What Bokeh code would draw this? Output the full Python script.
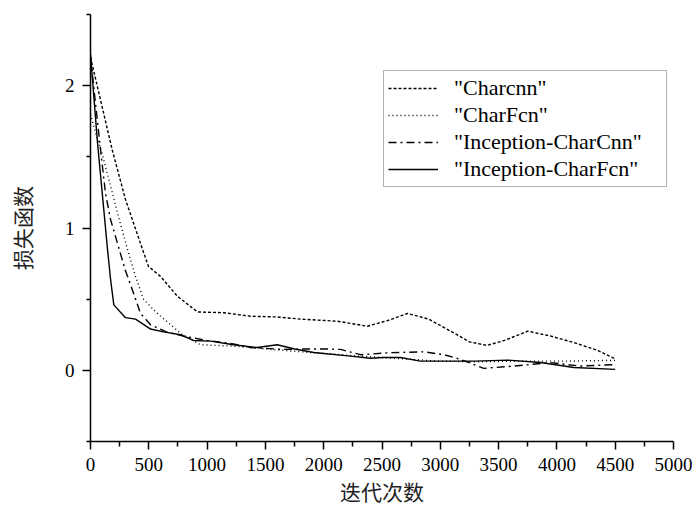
from bokeh.plotting import figure
from bokeh.models import FixedTicker, Legend, LegendItem, Range1d
from bokeh.embed import file_html
from bokeh.resources import INLINE

# ---- data ----
charcnn_x = [0, 186, 300, 446, 497, 600, 746, 918, 1141, 1372, 1600, 1800, 2118, 2375,
             2550, 2719, 2900, 3100, 3250, 3400, 3550, 3750, 3950, 4145, 4350, 4500]
charcnn_y = [2.2, 1.55, 1.2, 0.85, 0.73, 0.66, 0.52, 0.41, 0.405, 0.38, 0.375, 0.36, 0.345, 0.31,
             0.35, 0.40, 0.36, 0.27, 0.2, 0.175, 0.21, 0.275, 0.24, 0.195, 0.14, 0.08]

charfcn_x = [0, 50, 100, 240, 317, 386, 455, 560, 660, 772, 943, 1226, 1500, 1887, 2316,
             2700, 2973, 3300, 3700, 4100, 4500]
charfcn_y = [1.8, 1.65, 1.52, 1.08, 0.85, 0.66, 0.5, 0.41, 0.34, 0.26, 0.18, 0.17, 0.15, 0.125, 0.10,
             0.08, 0.065, 0.06, 0.065, 0.065, 0.07]

inc_cnn_x = [0, 86, 129, 172, 257, 300, 357, 429, 515, 650, 800, 1000, 1200, 1372, 1658, 1850,
             2030, 2144, 2316, 2573, 2859, 3030, 3173, 3373, 3630, 3945, 4202, 4489]
inc_cnn_y = [2.2, 1.55, 1.24, 1.06, 0.82, 0.70, 0.57, 0.40, 0.32, 0.27, 0.24, 0.21, 0.19, 0.16, 0.147, 0.15,
             0.15, 0.147, 0.11, 0.124, 0.13, 0.11, 0.077, 0.014, 0.03, 0.054, 0.03, 0.04]

inc_fcn_x = [0, 60, 146, 172, 200, 300, 386, 515, 626, 772, 883, 1029, 1226, 1432, 1601, 1750,
             1915, 2230, 2400, 2515, 2658, 2830, 3088, 3300, 3573, 3859, 4145, 4500]
inc_fcn_y = [2.22, 1.6, 0.85, 0.64, 0.46, 0.37, 0.36, 0.29, 0.27, 0.25, 0.21, 0.205, 0.18, 0.16, 0.18, 0.15,
             0.125, 0.10, 0.085, 0.09, 0.09, 0.065, 0.065, 0.065, 0.072, 0.055, 0.02, 0.007]

series_labels = ['"Charcnn"', '"CharFcn"', '"Inception-CharCnn"', '"Inception-CharFcn"']
x_ticks = list(range(0, 5001, 500))
x_minor = list(range(250, 5000, 500))
y_ticks = [0, 1, 2]
y_minor = [-0.5, 0.5, 1.5, 2.5]
x_title = "迭代次数"
y_title = "损失函数"

SERIF = "Liberation Serif"
CJK = "Noto Sans CJK SC"

p = figure(width=692, height=509, output_backend="svg", toolbar_location=None,
           x_range=Range1d(0, 5000), y_range=Range1d(-0.5, 2.5),
           min_border_left=90, min_border_right=19, min_border_top=14, min_border_bottom=68)
p.outline_line_color = None
p.xgrid.visible = False
p.ygrid.visible = False

dashes = ["3 2", "1 3", "8 4 2 4", "solid"]
xs = [charcnn_x, charfcn_x, inc_cnn_x, inc_fcn_x]
ys = [charcnn_y, charfcn_y, inc_cnn_y, inc_fcn_y]
renderers = []
for x, y, d in zip(xs, ys, dashes):
    r = p.line(x, y, line_color="black", line_width=1.4, line_dash=d)
    renderers.append(r)

for ax in (p.xaxis[0], p.yaxis[0]):
    ax.axis_line_color = "black"
    ax.axis_line_width = 1.5
    ax.major_tick_line_color = "black"
    ax.minor_tick_line_color = "black"
    ax.major_tick_line_width = 1.5
    ax.minor_tick_line_width = 1.5
    ax.major_tick_in = 0
    ax.minor_tick_in = 0
    ax.major_tick_out = 8
    ax.minor_tick_out = 5
    ax.major_label_text_font = SERIF
    ax.major_label_text_font_size = "19px"
    ax.major_label_text_color = "black"
    ax.axis_label_text_font = CJK
    ax.axis_label_text_font_size = "21px"
    ax.axis_label_text_font_style = "normal"
    ax.axis_label_text_color = "#222222"

p.xaxis[0].ticker = FixedTicker(ticks=x_ticks, minor_ticks=x_minor)
p.yaxis[0].ticker = FixedTicker(ticks=y_ticks, minor_ticks=y_minor)
p.yaxis[0].minor_tick_out = 4
p.xaxis[0].major_label_standoff = 8
p.yaxis[0].major_label_standoff = 8
p.xaxis[0].axis_label = x_title
p.yaxis[0].axis_label = y_title
p.xaxis[0].axis_label_standoff = 2
p.yaxis[0].axis_label_standoff = 25

items = [LegendItem(label=l, renderers=[r]) for l, r in zip(series_labels, renderers)]
legend = Legend(items=items, location=(293, 254), orientation="vertical",
                label_text_font=SERIF, label_text_font_size="22px", label_text_color="black",
                glyph_width=50, glyph_height=22, label_height=22, label_width=208,
                label_standoff=16, spacing=1, padding=4, margin=0,
                border_line_color="#666666", border_line_width=1,
                background_fill_alpha=1.0)
p.add_layout(legend, "center")

open("out.html", "w").write(file_html(p, INLINE))
